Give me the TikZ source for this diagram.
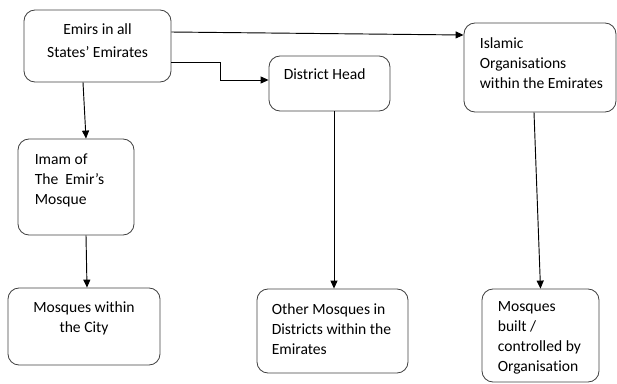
\documentclass[tikz,border=0pt]{standalone}
\usepackage{fontspec}
\setmainfont{Carlito}[Ligatures=CommonOff]
\usetikzlibrary{positioning, arrows.meta, calc}

\begin{document}
\begin{tikzpicture}[x=0.03cm, y=-0.03cm, >={Triangle[length=0.24cm, width=0.21cm]},
    box/.style={draw=black!75, line width=0.7pt, rounded corners=0.33cm, inner sep=0pt},
    lbl/.style={inner sep=0pt, font=\fontsize{13.3}{17}\selectfont},
    arr/.style={->, line width=0.8pt}]
  \useasboundingbox (0,0) rectangle (617,383);
  % boxes
  \node[box, minimum width=4.41cm, minimum height=2.16cm] (emir) at (97.5,46) {};
  \node[box, minimum width=3.63cm, minimum height=1.65cm] (dist) at (329.5,83.5) {};
  \node[box, minimum width=4.56cm, minimum height=2.67cm] (isl) at (540,67.5) {};
  \node[box, minimum width=3.48cm, minimum height=2.88cm] (imam) at (76,187) {};
  \node[box, minimum width=4.56cm, minimum height=2.31cm] (city) at (84,326.5) {};
  \node[box, minimum width=4.53cm, minimum height=2.52cm] (other) at (332.5,331) {};
  \node[box, minimum width=3.51cm, minimum height=2.79cm] (built) at (540.5,335.5) {};
  % texts
  \node[lbl, anchor=north, align=center, font=\fontsize{13.3}{19.5}\selectfont] at ([shift={(0,14)}]emir.north) {Emirs in all\\States’ Emirates};
  \node[lbl, anchor=north west, align=left] at ([shift={(15,13)}]dist.north west) {District Head};
  \node[lbl, anchor=north west, align=left] at ([shift={(16,15)}]isl.north west) {Islamic\\Organisations\\within the Emirates};
  \node[lbl, anchor=north west, align=left] at ([shift={(17,15)}]imam.north west) {Imam of\\The\ \ Emir’s\\Mosque};
  \node[lbl, anchor=north, align=center] at ([shift={(0,14)}]city.north) {Mosques within\\the City};
  \node[lbl, anchor=north west, align=left] at ([shift={(15,15)}]other.north west) {Other Mosques in\\Districts within the\\Emirates};
  \node[lbl, anchor=north west, align=left] at ([shift={(16,13)}]built.north west) {Mosques\\built /\\controlled by\\Organisation};
  % connectors
  \draw[arr] ([shift={(0,-14)}]emir.east) -- ([shift={(0,-32.5)}]isl.west);
  \draw[arr] ([shift={(0,16)}]emir.east) -- ++(49,0) |- ([shift={(0,-3.5)}]dist.west);
  \draw[arr] ([shift={(-14.5,0)}]emir.south) -- ([shift={(10,0)}]imam.north);
  \draw[arr] ([shift={(10,0)}]imam.south) -- ([shift={(3,0)}]city.north);
  \draw[arr] ([shift={(4.5,0)}]dist.south) -- ([shift={(1.5,0)}]other.north);
  \draw[arr] ([shift={(-6,0)}]isl.south) -- (built.north);
\end{tikzpicture}
\end{document}
